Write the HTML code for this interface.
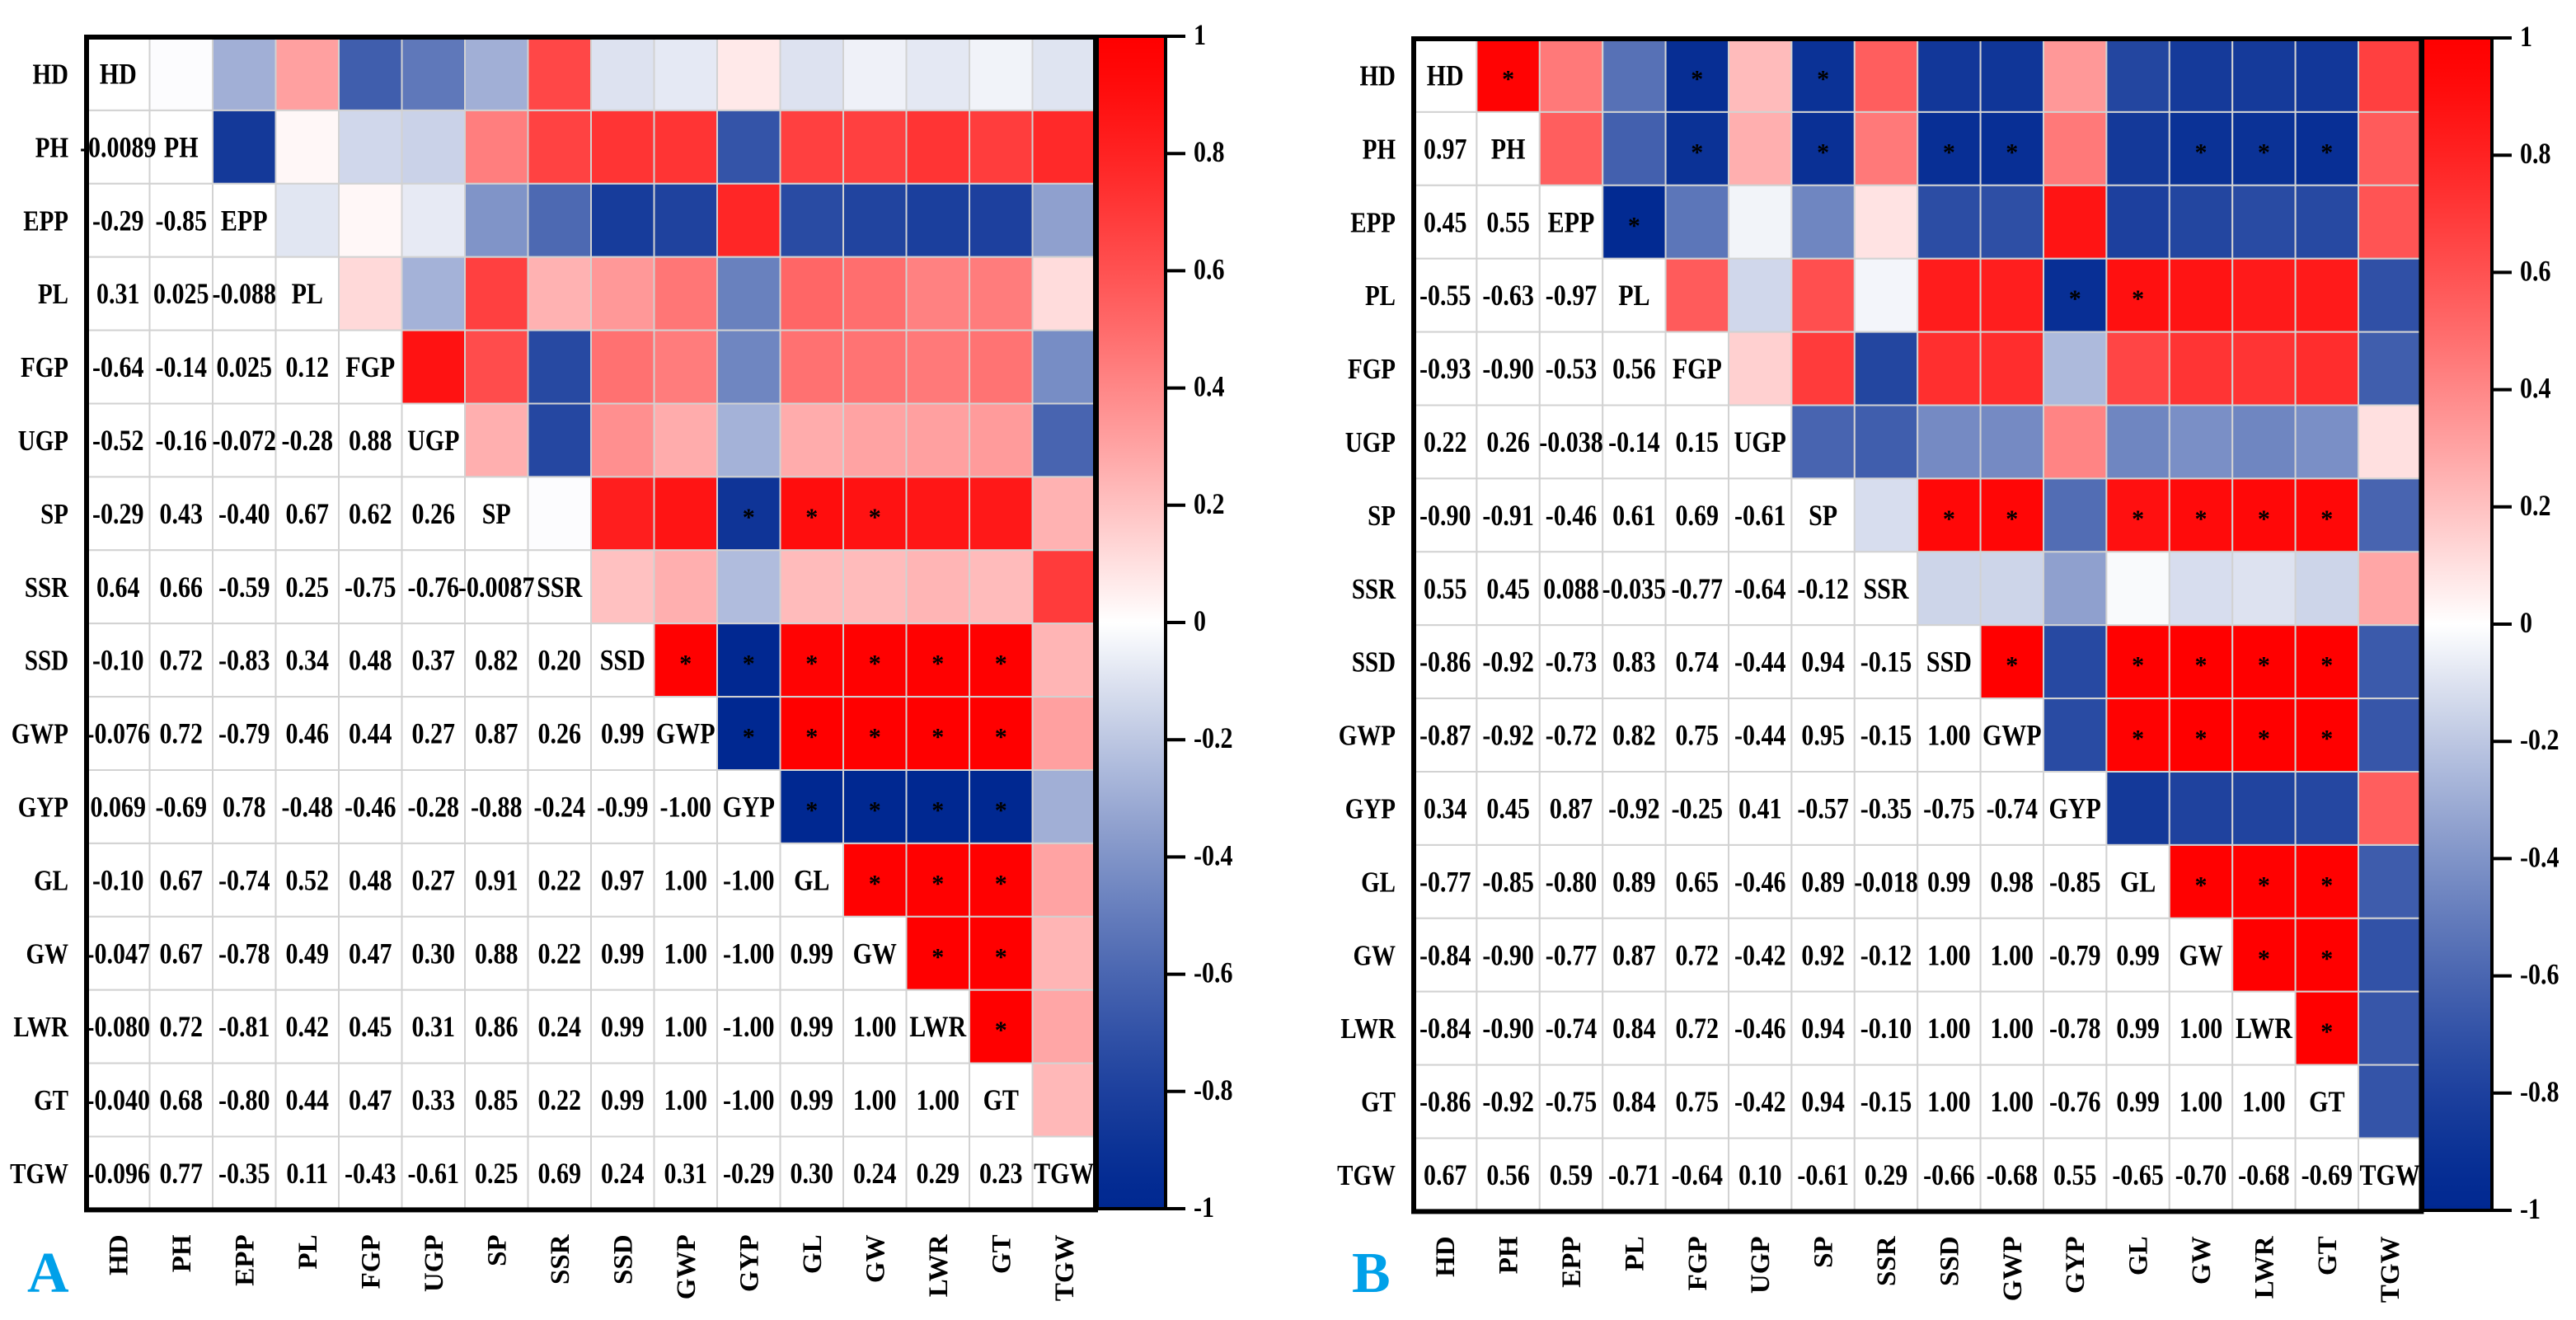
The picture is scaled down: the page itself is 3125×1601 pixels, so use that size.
<!DOCTYPE html>
<html><head><meta charset="utf-8"><style>
html,body{margin:0;padding:0;background:#fff;}
svg{display:block;font-family:"Liberation Serif",serif;font-weight:bold;}
</style></head><body>
<svg id="chart" width="3125" height="1601" viewBox="0 0 3125 1601" xmlns="http://www.w3.org/2000/svg">
<defs>
<linearGradient id="cbgrad" x1="0" y1="0" x2="0" y2="1"></linearGradient>
</defs>
<rect width="3125" height="1601" fill="#fff"/>
</svg>
<script>
const vars = ["HD","PH","EPP","PL","FGP","UGP","SP","SSR","SSD","GWP","GYP","GL","GW","LWR","GT","TGW"];
const valsA = [
[],
[-0.0089],
[-0.29,-0.85],
[0.31,0.025,-0.088],
[-0.64,-0.14,0.025,0.12],
[-0.52,-0.16,-0.072,-0.28,0.88],
[-0.29,0.43,-0.40,0.67,0.62,0.26],
[0.64,0.66,-0.59,0.25,-0.75,-0.76,-0.0087],
[-0.10,0.72,-0.83,0.34,0.48,0.37,0.82,0.20],
[-0.076,0.72,-0.79,0.46,0.44,0.27,0.87,0.26,0.99],
[0.069,-0.69,0.78,-0.48,-0.46,-0.28,-0.88,-0.24,-0.99,-1.00],
[-0.10,0.67,-0.74,0.52,0.48,0.27,0.91,0.22,0.97,1.00,-1.00],
[-0.047,0.67,-0.78,0.49,0.47,0.30,0.88,0.22,0.99,1.00,-1.00,0.99],
[-0.080,0.72,-0.81,0.42,0.45,0.31,0.86,0.24,0.99,1.00,-1.00,0.99,1.00],
[-0.040,0.68,-0.80,0.44,0.47,0.33,0.85,0.22,0.99,1.00,-1.00,0.99,1.00,1.00],
[-0.096,0.77,-0.35,0.11,-0.43,-0.61,0.25,0.69,0.24,0.31,-0.29,0.30,0.24,0.29,0.23]
];
const labelsA = [
[],["-0.0089"],["-0.29","-0.85"],["0.31","0.025","-0.088"],["-0.64","-0.14","0.025","0.12"],
["-0.52","-0.16","-0.072","-0.28","0.88"],["-0.29","0.43","-0.40","0.67","0.62","0.26"],
["0.64","0.66","-0.59","0.25","-0.75","-0.76","-0.0087"],
["-0.10","0.72","-0.83","0.34","0.48","0.37","0.82","0.20"],
["-0.076","0.72","-0.79","0.46","0.44","0.27","0.87","0.26","0.99"],
["0.069","-0.69","0.78","-0.48","-0.46","-0.28","-0.88","-0.24","-0.99","-1.00"],
["-0.10","0.67","-0.74","0.52","0.48","0.27","0.91","0.22","0.97","1.00","-1.00"],
["-0.047","0.67","-0.78","0.49","0.47","0.30","0.88","0.22","0.99","1.00","-1.00","0.99"],
["-0.080","0.72","-0.81","0.42","0.45","0.31","0.86","0.24","0.99","1.00","-1.00","0.99","1.00"],
["-0.040","0.68","-0.80","0.44","0.47","0.33","0.85","0.22","0.99","1.00","-1.00","0.99","1.00","1.00"],
["-0.096","0.77","-0.35","0.11","-0.43","-0.61","0.25","0.69","0.24","0.31","-0.29","0.30","0.24","0.29","0.23"]
];
const valsB = [
[],
[0.97],
[0.45,0.55],
[-0.55,-0.63,-0.97],
[-0.93,-0.90,-0.53,0.56],
[0.22,0.26,-0.038,-0.14,0.15],
[-0.90,-0.91,-0.46,0.61,0.69,-0.61],
[0.55,0.45,0.088,-0.035,-0.77,-0.64,-0.12],
[-0.86,-0.92,-0.73,0.83,0.74,-0.44,0.94,-0.15],
[-0.87,-0.92,-0.72,0.82,0.75,-0.44,0.95,-0.15,1.00],
[0.34,0.45,0.87,-0.92,-0.25,0.41,-0.57,-0.35,-0.75,-0.74],
[-0.77,-0.85,-0.80,0.89,0.65,-0.46,0.89,-0.018,0.99,0.98,-0.85],
[-0.84,-0.90,-0.77,0.87,0.72,-0.42,0.92,-0.12,1.00,1.00,-0.79,0.99],
[-0.84,-0.90,-0.74,0.84,0.72,-0.46,0.94,-0.10,1.00,1.00,-0.78,0.99,1.00],
[-0.86,-0.92,-0.75,0.84,0.75,-0.42,0.94,-0.15,1.00,1.00,-0.76,0.99,1.00,1.00],
[0.67,0.56,0.59,-0.71,-0.64,0.10,-0.61,0.29,-0.66,-0.68,0.55,-0.65,-0.70,-0.68,-0.69]
];
const labelsB = [
[],["0.97"],["0.45","0.55"],["-0.55","-0.63","-0.97"],["-0.93","-0.90","-0.53","0.56"],
["0.22","0.26","-0.038","-0.14","0.15"],["-0.90","-0.91","-0.46","0.61","0.69","-0.61"],
["0.55","0.45","0.088","-0.035","-0.77","-0.64","-0.12"],
["-0.86","-0.92","-0.73","0.83","0.74","-0.44","0.94","-0.15"],
["-0.87","-0.92","-0.72","0.82","0.75","-0.44","0.95","-0.15","1.00"],
["0.34","0.45","0.87","-0.92","-0.25","0.41","-0.57","-0.35","-0.75","-0.74"],
["-0.77","-0.85","-0.80","0.89","0.65","-0.46","0.89","-0.018","0.99","0.98","-0.85"],
["-0.84","-0.90","-0.77","0.87","0.72","-0.42","0.92","-0.12","1.00","1.00","-0.79","0.99"],
["-0.84","-0.90","-0.74","0.84","0.72","-0.46","0.94","-0.10","1.00","1.00","-0.78","0.99","1.00"],
["-0.86","-0.92","-0.75","0.84","0.75","-0.42","0.94","-0.15","1.00","1.00","-0.76","0.99","1.00","1.00"],
["0.67","0.56","0.59","-0.71","-0.64","0.10","-0.61","0.29","-0.66","-0.68","0.55","-0.65","-0.70","-0.68","-0.69"]
];
const starsA = [[6,10],[6,11],[6,12],[8,9],[8,10],[8,11],[8,12],[8,13],[8,14],[9,10],[9,11],[9,12],[9,13],[9,14],[10,11],[10,12],[10,13],[10,14],[11,12],[11,13],[11,14],[12,13],[12,14],[13,14]];
const starsB = [[0,1],[0,4],[0,6],[1,4],[1,6],[1,8],[1,9],[1,12],[1,13],[1,14],[2,3],[3,10],[3,11],[6,8],[6,9],[6,11],[6,12],[6,13],[6,14],[8,9],[8,11],[8,12],[8,13],[8,14],[9,11],[9,12],[9,13],[9,14],[11,12],[11,13],[11,14],[12,13],[12,14],[13,14]];
const cbTicks = [1,0.8,0.6,0.4,0.2,0,-0.2,-0.4,-0.6,-0.8,-1];
const cbTickLabels = ["1","0.8","0.6","0.4","0.2","0","-0.2","-0.4","-0.6","-0.8","-1"];

const NS = "http://www.w3.org/2000/svg";
const svg = document.getElementById("chart");
function mk(tag, attrs, parent){ const e=document.createElementNS(NS,tag); for(const k in attrs) e.setAttribute(k,attrs[k]); (parent||svg).appendChild(e); return e; }
function color(v){
  const a = Math.min(1,Math.abs(v));
  if (v>=0){ const t=Math.pow(1-a,1.25); const g=Math.round(255*t); return `rgb(255,${g},${g})`; }
  const t=Math.pow(1-a,1.35);
  const r=Math.round(255*t), g=Math.round(40+215*t), b=Math.round(145+110*t);
  return `rgb(${r},${g},${b})`;
}
const grad = document.getElementById("cbgrad");
for(let k=0;k<=40;k++){
  const v = 1 - k/20;
  mk("stop",{offset:k/40,"stop-color":color(v)},grad);
}
function getVal(vals,i,j){ return i>j ? vals[i][j] : vals[j][i]; }

function panel(p){
  const g = mk("g",{});
  
  
  const n = vars.length;
  const xS = j => p.x0 + j*p.cw;
  const yS = i => p.y0 + i*p.rh;
  const isStar = (i,j) => p.stars.some(s=>s[0]===i&&s[1]===j);
  for(let i=0;i<n;i++){
    for(let j=0;j<n;j++){
      let fill="#fff";
      if(j>i) fill=color(getVal(p.vals,i,j));
      const r = mk("rect",{x:xS(j),y:yS(i),width:p.cw,height:p.rh,fill:fill,stroke:"#d2d2d2","stroke-width":2},g);
      
      
    }
  }
  for(let i=0;i<n;i++){
    for(let j=0;j<n;j++){
      const cx = xS(j)+p.cw/2, cy = yS(i)+p.rh/2;
      let txt=null;
      if(i===j) txt=vars[i];
      else if(i>j) txt=p.labels[i][j];
      if(txt!==null){
        const t = mk("text",{"text-anchor":"middle","font-size":30,fill:"#000",transform:`translate(${cx},${cy+12}) scale(1,1.2)`},g);
        t.textContent=txt;
        
        
      }
      if(j>i && isStar(i,j)){
        const s = mk("text",{x:cx,y:cy+14,"text-anchor":"middle","font-size":30,fill:"#000"},g);
        s.textContent="*";
        
        
      }
    }
    const rl = mk("text",{"text-anchor":"end","font-size":29,transform:`translate(${p.x0-22},${yS(i)+p.rh/2+12}) scale(1,1.2)`},g);
    rl.textContent=vars[i];
    
    
    const cl = mk("text",{"text-anchor":"end","font-size":33,transform:`translate(${xS(i)+p.cw/2+11},${p.y0+n*p.rh+30}) rotate(-90)`},g);
    cl.textContent=vars[i];
    
    
  }
  const b = mk("rect",{x:p.x0,y:p.y0,width:n*p.cw,height:n*p.rh,fill:"none",stroke:"#000","stroke-width":6},g);
  
  
  const cb = mk("rect",{x:p.cbx,y:p.cbTop,width:p.cbw,height:p.cbBot-p.cbTop,fill:"url(#cbgrad)",stroke:"#000","stroke-width":4},g);
  
  
  const cy = v => p.cbTop + (1-v)/2*(p.cbBot-p.cbTop);
  cbTicks.forEach((v,k)=>{
    const l = mk("line",{x1:p.cbx+p.cbw,x2:p.cbx+p.cbw+24,y1:cy(v),y2:cy(v),stroke:"#000","stroke-width":4},g);
    
    
    const t = mk("text",{"font-size":30,transform:`translate(${p.cbx+p.cbw+34},${cy(v)+10}) scale(1,1.2)`},g);
    t.textContent=cbTickLabels[k];
    
    
  });
  const pl = mk("text",{x:p.lx,y:1567,"font-size":70,fill:"#00a0e9"},g);
  pl.textContent=p.letter;
  
  
}
panel({name:"panel-a",x0:105,y0:45,cw:76.5,rh:88.9,vals:valsA,labels:labelsA,stars:starsA,cbx:1331,cbw:83,cbTop:44,cbBot:1466,lx:33,letter:"A"});
panel({name:"panel-b",x0:1715,y0:47,cw:76.4,rh:88.9,vals:valsB,labels:labelsB,stars:starsB,cbx:2939,cbw:84,cbTop:46,cbBot:1468,lx:1640,letter:"B"});
</script>
</body></html>
